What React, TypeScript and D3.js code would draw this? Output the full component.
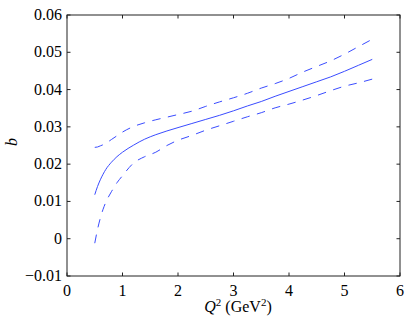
import React from 'react';
import * as d3 from 'd3';

// Q^2 grid (GeV^2)
const q2 = [0.5, 0.55, 0.6, 0.65, 0.7, 0.8, 0.9, 1.0, 1.2, 1.4, 1.6, 1.8, 2.0, 2.25, 2.5, 2.75, 3.0, 3.25, 3.5, 3.75, 4.0, 4.25, 4.5, 4.75, 5.0, 5.25, 5.5];

// central value of b
const bCentral = [0.0118, 0.0140, 0.0158, 0.0173, 0.0186, 0.0205, 0.0220, 0.0232, 0.0251, 0.0267, 0.0279, 0.0289, 0.0298, 0.0309, 0.0320, 0.0331, 0.0343, 0.0356, 0.0368, 0.0382, 0.0395, 0.0408, 0.0421, 0.0434, 0.0449, 0.0465, 0.0481];
// upper band
const bUpper = [0.0245, 0.0246, 0.0249, 0.0252, 0.0256, 0.0266, 0.0276, 0.0286, 0.0301, 0.0311, 0.0319, 0.0326, 0.0333, 0.0342, 0.0355, 0.0367, 0.0378, 0.0390, 0.0404, 0.0416, 0.0430, 0.0447, 0.0462, 0.0477, 0.0495, 0.0515, 0.0535];
// lower band
const bLower = [-0.0012, 0.0025, 0.0055, 0.0079, 0.0098, 0.0126, 0.0150, 0.0169, 0.0203, 0.0220, 0.0232, 0.0250, 0.0264, 0.0277, 0.0291, 0.0303, 0.0315, 0.0327, 0.0338, 0.0351, 0.0361, 0.0372, 0.0384, 0.0397, 0.0409, 0.0418, 0.0428];

const xTicks = [0, 1, 2, 3, 4, 5, 6];
const yTicks = [-0.01, 0, 0.01, 0.02, 0.03, 0.04, 0.05, 0.06];

const W = 410, H = 324;
const left = 67, right = 400, top = 15, bottom = 276;
const blue = '#3a4cff';

export default function App() {
  const x = d3.scaleLinear().domain([0, 6]).range([left, right]);
  const y = d3.scaleLinear().domain([-0.01, 0.06]).range([bottom, top]);

  const line = d3.line<number>()
    .x((_, i) => x(q2[i]))
    .y(d => y(d))
    .curve(d3.curveMonotoneX);

  const yFmt = (v: number) => {
    const s = Math.abs(v) < 1e-9 ? '0' : d3.format('.2f')(v);
    return s.replace('-', '\u2212');
  };

  return (
    <svg width={W} height={H} className="plot" style={{ position: 'absolute', left: 0, top: 0, background: '#fff' }}>
      <style>{`.plot text { font-family: "Liberation Serif", "Times New Roman", Tinos, serif; }`}</style>
      {/* curves */}
      <path d={line(bCentral) || ''} fill="none" stroke={blue} strokeWidth={1} />
      <path d={line(bUpper) || ''} fill="none" stroke={blue} strokeWidth={1} strokeDasharray="8.5,7.5" />
      <path d={line(bLower) || ''} fill="none" stroke={blue} strokeWidth={1} strokeDasharray="8.5,7.5" />

      {/* box */}
      <rect x={left} y={top} width={right - left} height={bottom - top} fill="none" stroke="#222" strokeWidth={1} />

      <g fontFamily="Liberation Serif">
        {/* x ticks */}
        {xTicks.map(t => (
          <g key={'x' + t}>
            <line x1={x(t)} x2={x(t)} y1={bottom} y2={bottom - 3.5} stroke="#222" />
            <line x1={x(t)} x2={x(t)} y1={top} y2={top + 3.5} stroke="#222" />
            <text x={x(t)} y={296} textAnchor="middle" fontSize={16}>{String(t)}</text>
          </g>
        ))}

        {/* y ticks */}
        {yTicks.map(t => (
          <g key={'y' + t}>
            <line x1={left} x2={left + 3.5} y1={y(t)} y2={y(t)} stroke="#222" />
            <line x1={right} x2={right - 3.5} y1={y(t)} y2={y(t)} stroke="#222" />
            <text x={62} y={y(t) + 5} textAnchor="end" fontSize={16}>{yFmt(t)}</text>
          </g>
        ))}

        {/* axis labels */}
        <text x={238} y={312} textAnchor="middle" fontSize={16}>
          <tspan fontStyle="italic">Q</tspan>
          <tspan fontSize={11} dy={-6}>2</tspan>
          <tspan dy={6}> (GeV</tspan>
          <tspan fontSize={11} dy={-6}>2</tspan>
          <tspan dy={6}>)</tspan>
        </text>
        <text transform="translate(17,142) rotate(-90)" textAnchor="middle" fontSize={16} fontStyle="italic">b</text>
      </g>
    </svg>
  );
}
